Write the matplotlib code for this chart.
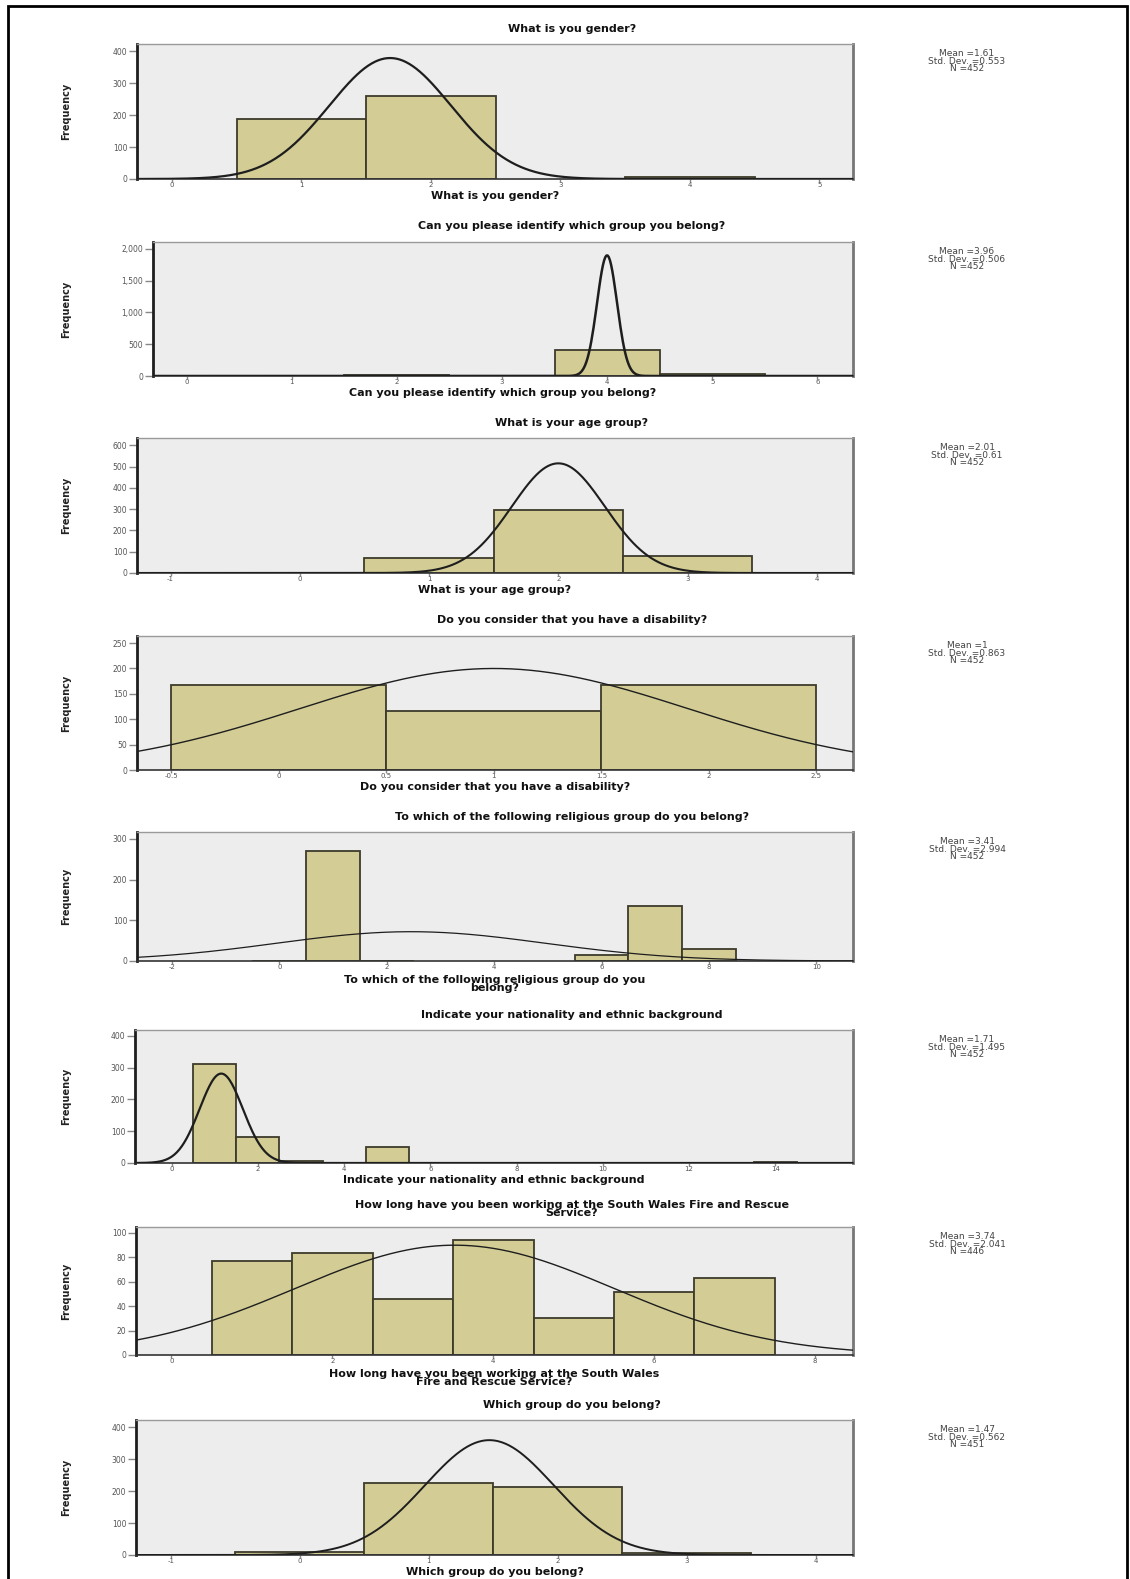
import numpy as np
import matplotlib
matplotlib.use("Agg")
import matplotlib.pyplot as plt
from matplotlib.patches import Rectangle

W, H = 1130, 1579

# ---- chart texts ----
titles = [
    "What is you gender?",
    "Can you please identify which group you belong?",
    "What is your age group?",
    "Do you consider that you have a disability?",
    "To which of the following religious group do you belong?",
    "Indicate your nationality and ethnic background",
    "How long have you been working at the South Wales Fire and Rescue\nService?",
    "Which group do you belong?",
]
xlabels = [
    "What is you gender?",
    "Can you please identify which group you belong?",
    "What is your age group?",
    "Do you consider that you have a disability?",
    "To which of the following religious group do you\nbelong?",
    "Indicate your nationality and ethnic background",
    "How long have you been working at the South Wales\nFire and Rescue Service?",
    "Which group do you belong?",
]

# ---- reported statistics ----
stat_mean = ["1.61", "3.96", "2.01", "1", "3.41", "1.71", "3.74", "1.47"]
stat_sd = ["0.553", "0.506", "0.61", "0.863", "2.994", "1.495", "2.041", "0.562"]
stat_n = ["452", "452", "452", "452", "452", "452", "446", "451"]

# ---- histogram bins (centres, width 1) and frequencies ----
gender_bins = [1, 2, 4]
gender_counts = [187, 260, 5]
group_bins = [1, 2, 4, 5]
group_counts = [3, 14, 410, 25]
age_bins = [0, 1, 2, 3]
age_counts = [2, 70, 298, 82]
disability_bins = [0, 1, 2]
disability_counts = [167, 117, 168]
religion_bins = [0, 1, 2, 6, 7, 8]
religion_counts = [1, 270, 1, 14, 136, 30]
nationality_bins = [1, 2, 3, 5, 14]
nationality_counts = [310, 82, 7, 51, 2]
service_bins = [1, 2, 3, 4, 5, 6, 7]
service_counts = [77, 84, 46, 94, 30, 52, 63]
which_group_bins = [0, 1, 2, 3]
which_group_counts = [10, 224, 212, 5]

all_bins = [gender_bins, group_bins, age_bins, disability_bins,
            religion_bins, nationality_bins, service_bins, which_group_bins]
all_counts = [gender_counts, group_counts, age_counts, disability_counts,
              religion_counts, nationality_counts, service_counts, which_group_counts]

# ---- fitted normal curves: centre, spread, peak height ----
curve_center = [1.685, 4.0, 2.0, 1.0, 2.45, 1.15, 3.52, 1.47]
curve_sd = [0.47, 0.095, 0.36, 0.90, 2.5, 0.50, 1.98, 0.50]
curve_peak = [379, 1900, 515, 200, 72, 281, 90, 359]
curve_lw = [1.6, 1.8, 1.5, 1.0, 0.9, 1.6, 1.0, 1.4]

# ---- axis scales ----
x_limits = [(-0.27, 5.26), (-0.32, 6.34), (-1.26, 4.28), (-0.66, 2.67),
            (-2.65, 10.68), (-0.85, 15.8), (-0.44, 8.47), (-1.27, 4.29)]
x_ticks = [np.arange(0, 6, 1), np.arange(0, 7, 1), np.arange(-1, 5, 1),
           np.arange(-0.5, 3.0, 0.5), np.arange(-2, 11, 2), np.arange(0, 15, 2),
           np.arange(0, 9, 2), np.arange(-1, 5, 1)]
y_top = [423, 2110, 634, 264, 317, 418, 104.9, 422]
y_step = [100, 500, 100, 50, 100, 100, 20, 100]
y_max_tick = [400, 2000, 600, 250, 300, 400, 100, 400]

# ---- panel boxes in pixels: left, top, right, bottom ----
boxes = [(137, 44, 853, 179), (153, 242, 853, 376), (137, 438, 853, 573),
         (137, 636, 853, 770), (137, 832, 853, 961), (135, 1030, 853, 1163),
         (136, 1227, 853, 1355), (136, 1420, 853, 1555)]
title_y = [29, 226, 423, 620, 817, 1015, 1209, 1405]
xlabel_offset = [17, 17, 17, 17, 23, 17, 23, 17]

BAR_FACE = "#d3cd95"
BAR_EDGE = "#3d3b2b"
PANEL_BG = "#eeeded"
TEXT_SIZE = 8

fig = plt.figure(figsize=(W / 100, H / 100), dpi=100)
fig.patch.set_facecolor("white")


def fx(px):
    return px / W


def fy(py):
    return 1 - py / H


for i in range(8):
    l, t, r, b = boxes[i]
    ax = fig.add_axes([fx(l), fy(b), (r - l) / W, (b - t) / H])
    ax.set_facecolor(PANEL_BG)

    ax.bar(all_bins[i], all_counts[i], width=1.0, align="center",
           color=BAR_FACE, edgecolor=BAR_EDGE, linewidth=1.3, zorder=2)

    x0, x1 = x_limits[i]
    xs = np.linspace(x0, x1, 600)
    ys = curve_peak[i] * np.exp(-0.5 * ((xs - curve_center[i]) / curve_sd[i]) ** 2)
    ax.plot(xs, ys, color="#1e1e1e", lw=curve_lw[i], zorder=3)

    ax.set_xlim(x0, x1)
    ax.set_ylim(0, y_top[i])
    ax.set_xticks(x_ticks[i])
    ax.set_xticklabels(["{:g}".format(v) for v in x_ticks[i]])
    yt = np.arange(0, y_max_tick[i] + 1, y_step[i])
    ax.set_yticks(yt)
    ax.set_yticklabels(["{:,.0f}".format(v) for v in yt])

    ax.tick_params(axis="y", direction="out", length=6, width=1, color="#888888",
                   labelsize=5.5, labelcolor="#555555", pad=1)
    ax.tick_params(axis="x", direction="out", length=2, width=1, color="#888888",
                   labelsize=5, labelcolor="#555555", pad=0)

    ax.spines["left"].set_color("#1e1e1e")
    ax.spines["left"].set_linewidth(2.0)
    ax.spines["bottom"].set_color("#333333")
    ax.spines["bottom"].set_linewidth(1.2)
    ax.spines["top"].set_color("#9a9a9a")
    ax.spines["top"].set_linewidth(1.0)
    ax.spines["right"].set_color("#777777")
    ax.spines["right"].set_linewidth(2.0)

    # title and axis label
    fig.text(fx(572), fy(title_y[i]), titles[i], ha="center", va="center",
             fontsize=TEXT_SIZE, fontweight="bold", family="DejaVu Sans",
             color="#111111", linespacing=0.85)
    fig.text(fx((l + r) / 2), fy(b + xlabel_offset[i]), xlabels[i], ha="center",
             va="center", fontsize=TEXT_SIZE, fontweight="bold",
             family="DejaVu Sans", color="#111111", linespacing=0.85)
    fig.text(fx(66), fy((t + b) / 2), "Frequency", rotation=90, ha="center",
             va="center", fontsize=7, fontweight="bold",
             family=["Liberation Sans Narrow", "DejaVu Sans"], color="#222222")

    stats = "Mean =%s\nStd. Dev. =%s\nN =%s" % (stat_mean[i], stat_sd[i], stat_n[i])
    fig.text(fx(967), fy(t + 5), stats, ha="center", va="top", fontsize=6.5,
             family="DejaVu Sans", color="#444444", linespacing=0.8)

# outer frame
fig.add_artist(Rectangle((fx(8), fy(1585)), (1127 - 8) / W, (1585 - 6) / H,
                         transform=fig.transFigure, fill=False,
                         edgecolor="black", linewidth=2))

fig.savefig("out.png", dpi=100, facecolor="white")
